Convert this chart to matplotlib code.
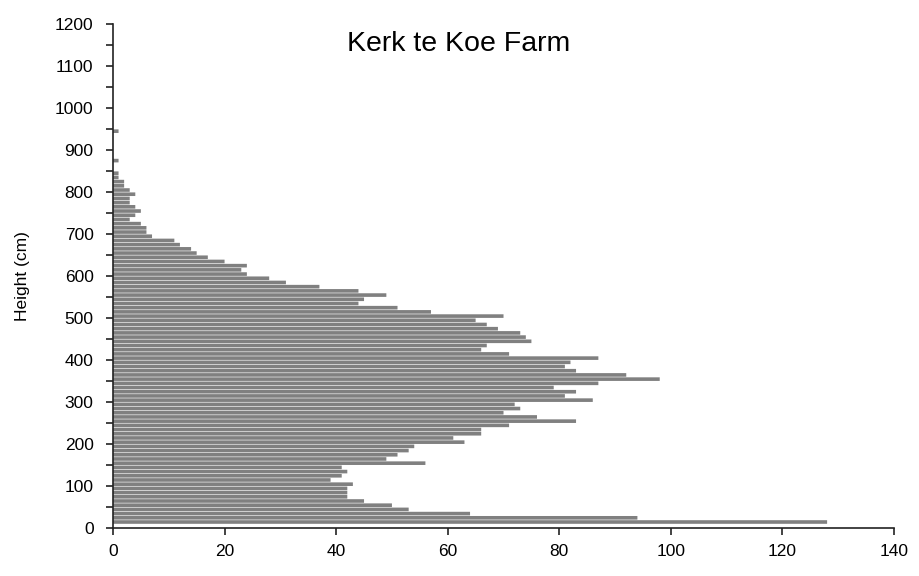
from matplotlib import pyplot as plt
from matplotlib.ticker import MultipleLocator
import numpy as np

plt.rcParams['font.family'] = ['Liberation Sans', 'DejaVu Sans']

# bin centres (cm), from the bottom bar upwards
heights = np.arange(15, 955, 10)

# number of points per 10 cm bin, bottom (15 cm) to top (945 cm)
counts = [
    128, 94, 64, 53, 50, 45, 42, 42, 42,          # 15 - 95
    43, 39, 41, 42, 41, 56, 49, 51, 53, 54,       # 105 - 195
    63, 61, 66, 66, 71, 83, 76, 70, 73, 72,       # 205 - 295
    86, 81, 83, 79, 87, 98, 92, 83, 81, 82,       # 305 - 395
    87, 71, 66, 67, 75, 74, 73, 69, 67, 65,       # 405 - 495
    70, 57, 51, 44, 45, 49, 44, 37, 31, 28,       # 505 - 595
    24, 23, 24, 20, 17, 15, 14, 12, 11, 7,        # 605 - 695
    6, 6, 5, 3, 4, 5, 4, 3, 3, 4,                 # 705 - 795
    3, 2, 2, 1, 1, 0, 0, 1, 0, 0,                 # 805 - 895
    0, 0, 0, 0, 1,                                # 905 - 945
]

fig = plt.figure(figsize=(9.2, 5.76), dpi=100)
ax = fig.add_axes([0.1228, 0.0828, 0.849, 0.8755])

ax.barh(heights, counts, height=8.6, color='#808080', linewidth=0, snap=False)

ax.set_xlim(0, 140)
ax.set_ylim(0, 1200)
ax.xaxis.set_major_locator(MultipleLocator(20))
ax.yaxis.set_major_locator(MultipleLocator(100))
ax.yaxis.set_minor_locator(MultipleLocator(50))

for side in ['top', 'right']:
    ax.spines[side].set_visible(False)
for side in ['left', 'bottom']:
    ax.spines[side].set_color('#222222')
    ax.spines[side].set_linewidth(1.2)

ax.tick_params(axis='both', which='both', direction='out', length=5,
               width=1.2, color='#222222', labelsize=12.5)
ax.tick_params(axis='y', which='major', pad=9)
ax.tick_params(axis='x', which='major', pad=6)

ax.set_ylabel('Height (cm)', fontsize=12.5)
ax.yaxis.set_label_coords(-0.106, 0.5)
ax.text(0.443, 0.987, 'Kerk te Koe Farm', transform=ax.transAxes,
        ha='center', va='top', fontsize=20.5)

plt.savefig('out.png', dpi=100)
